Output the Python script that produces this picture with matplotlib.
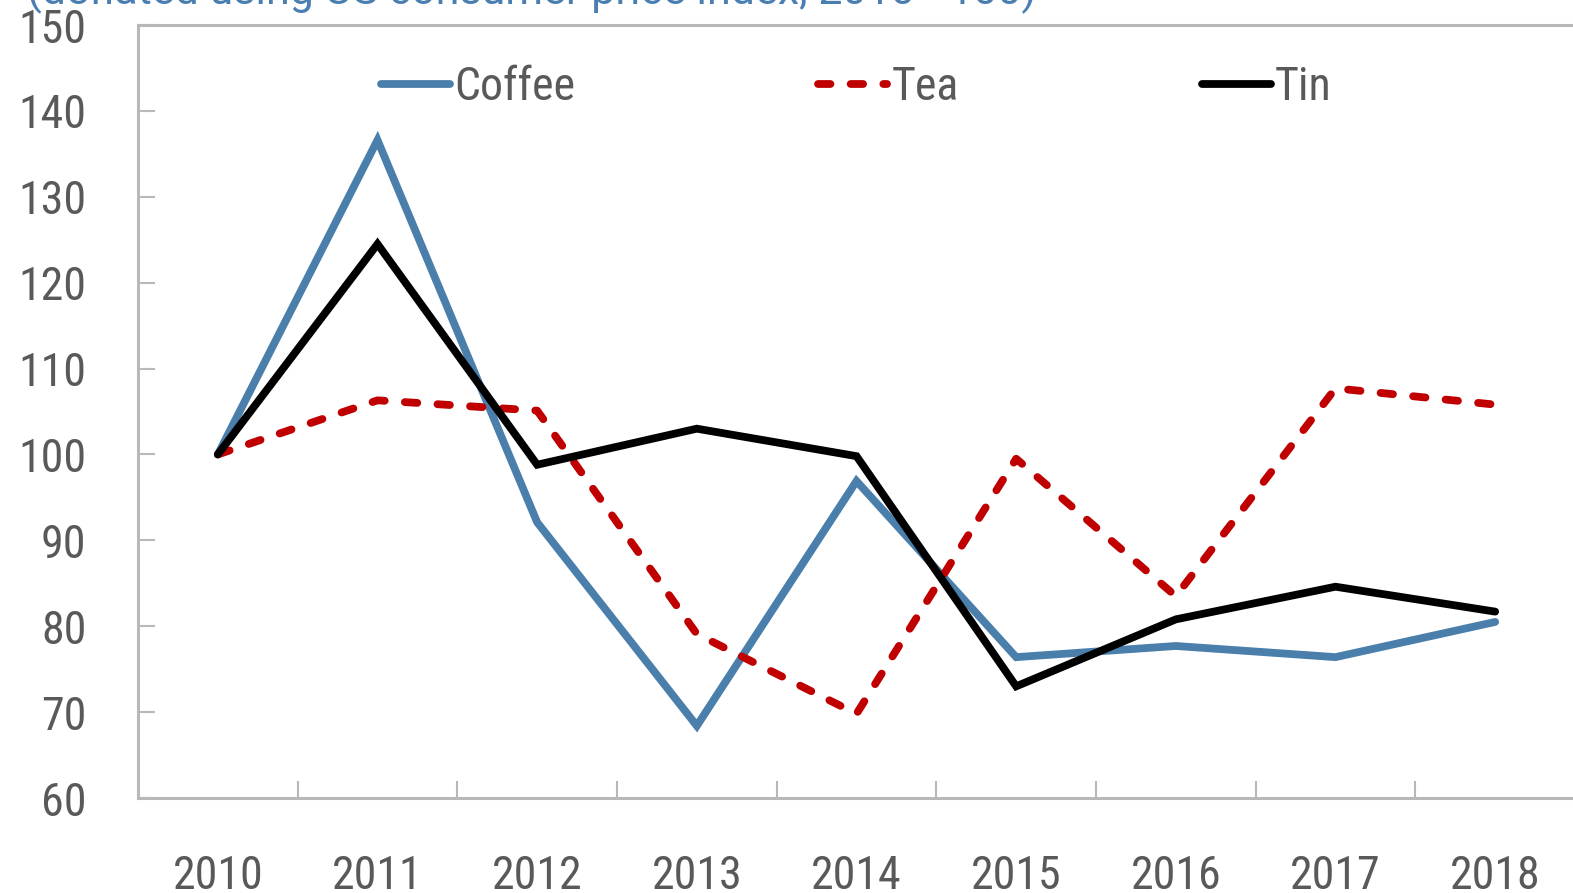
"""
Real commodity prices for coffee, tea and tin, 2010-2018 (2010 = 100).
"""

from matplotlib import pyplot as plt
import numpy as np

years = ['2010', '2011', '2012', '2013', '2014', '2015', '2016', '2017', '2018']
coffee = [100, 136.6, 92.1, 68.4, 96.9, 76.4, 77.7, 76.4, 80.5]
tea = [100, 106.3, 105.1, 79.1, 69.8, 99.5, 83.5, 107.7, 105.8]
tin = [100, 124.5, 98.8, 103.0, 99.8, 73.0, 80.8, 84.6, 81.7]
subtitle = '(deflated using US consumer price index, 2010 =100)'

plt.rcParams['font.family'] = ['Roboto Condensed', 'DejaVu Sans']
plt.rcParams['font.weight'] = 'normal'

grey = '#595959'
axis_grey = '#b8b8b8'
fs = 33
lw = 5.6

fig = plt.figure(figsize=(15.73, 8.93), dpi=100)
ax = fig.add_axes([138 / 1573, 95 / 893, 1437 / 1573, 773 / 893])

x = np.arange(len(years))
ax.plot(x, coffee, color='#4a7eab', lw=lw, solid_capstyle='round',
        solid_joinstyle='miter', label='Coffee')
ax.plot(x, tea, color='#c00000', lw=lw, dashes=(1.6, 2.6),
        dash_capstyle='round', label='Tea')
ax.plot(x, tin, color='black', lw=lw, solid_capstyle='round',
        solid_joinstyle='miter', label='Tin')

ax.set_xlim(-0.5, len(years) - 0.5)
ax.set_ylim(60, 150)
ax.set_yticks(np.arange(60, 151, 10))

# category axis: tick marks between years, labels centred on each year
ax.set_xticks(np.arange(0.5, len(years) - 1, 1.0))
ax.set_xticklabels([])
ax.set_xticks(x, minor=True)
ax.set_xticklabels(years, minor=True)
ax.tick_params(axis='x', which='major', direction='in', length=12,
               width=1.5, color=axis_grey)
ax.tick_params(axis='x', which='minor', length=0, pad=40,
               labelsize=fs, labelcolor=grey)
ax.tick_params(axis='y', direction='in', length=12, width=1.5,
               color=axis_grey, pad=37, labelsize=fs, labelcolor=grey)

for side in ['left', 'bottom', 'top']:
    ax.spines[side].set_color(axis_grey)
    ax.spines[side].set_linewidth(2.2)
ax.spines['right'].set_visible(False)

ax.legend(loc='center', bbox_to_anchor=(0.5, 0.92), ncol=3, frameon=False,
          fontsize=fs, labelcolor=grey, handlelength=1.5, handletextpad=0.1,
          columnspacing=5.3)

fig.text(27 / 1573, 1 - 4 / 893, subtitle, ha='left', va='baseline',
         fontsize=31, color='#4a7eb0', family=['Roboto', 'DejaVu Sans'])

plt.savefig('out.png', dpi=100)
